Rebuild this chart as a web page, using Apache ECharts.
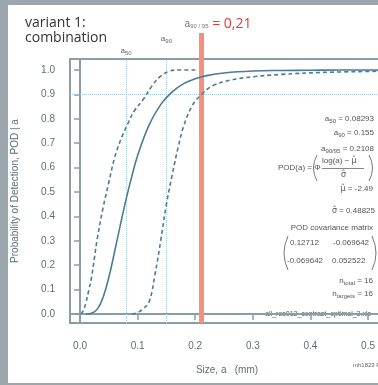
<!DOCTYPE html>
<html>
<head>
<meta charset="utf-8">
<script src="https://cdn.jsdelivr.net/npm/echarts@6/dist/echarts.min.js"></script>
<style>
  html, body { margin: 0; padding: 0; background: #9ba7ad; overflow: hidden; }
  #panel { position: absolute; left: 8px; top: 5px; width: 370px; height: 378px; background: #fff; }
  #main { position: absolute; left: 0; top: 0; width: 378px; height: 385px; }
</style>
</head>
<body>
<div id="panel"></div>
<div id="main"></div>
<script>
// POD curve (solid)
const sizeSolid = [0.010, 0.020, 0.030, 0.040, 0.050, 0.060, 0.070, 0.080, 0.090, 0.100, 0.120, 0.140, 0.160, 0.180, 0.200, 0.220, 0.250, 0.300, 0.350, 0.400, 0.450, 0.520];
const podSolid  = [0.000, 0.003, 0.020, 0.068, 0.150, 0.255, 0.365, 0.470, 0.565, 0.650, 0.775, 0.858, 0.910, 0.944, 0.964, 0.977, 0.988, 0.996, 0.998, 0.999, 1.000, 1.000];

// upper confidence curve (dashed, left)
const sizeUpper = [0.002, 0.006, 0.010, 0.015, 0.020, 0.025, 0.030, 0.040, 0.050, 0.060, 0.070, 0.083, 0.095, 0.110, 0.125, 0.140, 0.155, 0.170, 0.200];
const podUpper  = [0.000, 0.016, 0.045, 0.095, 0.150, 0.230, 0.310, 0.435, 0.540, 0.640, 0.710, 0.780, 0.835, 0.880, 0.935, 0.975, 0.995, 1.000, 1.000];

// lower 95% confidence curve (dashed, right)
const sizeLower = [0.090, 0.100, 0.110, 0.120, 0.130, 0.140, 0.150, 0.160, 0.170, 0.180, 0.195, 0.211, 0.230, 0.260, 0.300, 0.350, 0.420, 0.520];
const podLower  = [0.000, 0.006, 0.022, 0.050, 0.160, 0.300, 0.450, 0.570, 0.680, 0.770, 0.855, 0.900, 0.935, 0.958, 0.972, 0.982, 0.990, 0.995];

const xTicks = [0, 0.1, 0.2, 0.3, 0.4, 0.5];
const yTicks = [0, 0.1, 0.2, 0.3, 0.4, 0.5, 0.6, 0.7, 0.8, 0.9, 1.0];

const a50 = 0.08293;
const a90 = 0.155;
const a9095 = 0.2108;
const podLevel = 0.9;

const zip = (xs, ys) => xs.map((x, i) => [x, ys[i]]);

const chart = echarts.init(document.getElementById("main"));

const axisGray = "#8b9ea8";
const labelGray = "#5d6d77";
const curveBlue = "#4b7b95";
const dotBlue = "#a8cadb";
const orange = "#f3917a";
const font = "Liberation Sans";

const richSub = {
  s: { fontSize: 6, fontFamily: font, fill: "#555", padding: [4, 0, 0, 0] },
  h: { fontSize: 8, fontFamily: "DejaVu Sans", fill: "#555" }
};

const txt = (right, top, text) => ({
  type: "text",
  right: right,
  top: top,
  style: { text: text, font: "8px " + font, fill: "#555", rich: richSub }
});

const paren = (x1, y1, y2, bulge) => ({
  type: "bezierCurve",
  shape: { x1: x1, y1: y1, x2: x1, y2: y2, cpx1: x1 + bulge, cpy1: (y1 + y2) / 2 },
  style: { stroke: "#666", lineWidth: 0.9, fill: null }
});

const option = {
  animation: false,
  textStyle: { fontFamily: font },
  grid: [
    { left: 70, right: -6, top: 59, bottom: 62, show: true, borderColor: axisGray, borderWidth: 2, outerBoundsMode: "none", containLabel: false },
    { left: 70, right: -6, top: 33, height: 26, outerBoundsMode: "none", containLabel: false }
  ],
  xAxis: [
    {
      gridIndex: 0,
      type: "value",
      min: -0.0174,
      max: 0.5277,
      name: "Size, a   (mm)",
      nameLocation: "middle",
      nameGap: 42,
      nameTextStyle: { color: labelGray, fontSize: 10, fontFamily: font },
      splitLine: { show: false },
      axisLine: { lineStyle: { color: axisGray, width: 2 } },
      axisTick: { length: 6, lineStyle: { color: axisGray, width: 1.5 }, customValues: xTicks },
      axisLabel: { color: labelGray, fontSize: 10, margin: 18, customValues: xTicks, formatter: v => v.toFixed(1) }
    },
    { gridIndex: 1, type: "value", min: -0.0174, max: 0.5277, show: false }
  ],
  yAxis: [
    {
      gridIndex: 0,
      type: "value",
      min: -0.0369,
      max: 1.0451,
      name: "Probability of Detection, POD | a",
      nameLocation: "middle",
      nameGap: 50,
      nameTextStyle: { color: labelGray, fontSize: 10, fontFamily: font },
      splitLine: { show: false },
      axisLine: { show: true, lineStyle: { color: axisGray, width: 2 } },
      axisTick: { show: true, length: 6, lineStyle: { color: axisGray, width: 1.5 }, customValues: yTicks },
      axisLabel: { color: labelGray, fontSize: 10, margin: 15, customValues: yTicks, formatter: v => v.toFixed(1) }
    },
    { gridIndex: 1, type: "value", min: 0, max: 1, show: false }
  ],
  series: [
    {
      name: "ref",
      type: "line",
      xAxisIndex: 0,
      yAxisIndex: 0,
      data: [],
      z: 1,
      markLine: {
        symbol: "none",
        silent: true,
        animation: false,
        z: 1,
        data: [
          {
            xAxis: a50,
            lineStyle: { color: dotBlue, type: "dotted", width: 1 },
            label: { show: true, position: "end", distance: 3, formatter: "a{s|50}", color: "#666", fontSize: 8,
              rich: { s: { fontSize: 6, padding: [4, 0, 0, 0] } } }
          },
          {
            xAxis: a90,
            lineStyle: { color: dotBlue, type: "dotted", width: 1 },
            label: { show: true, position: "end", distance: 15, formatter: "a{s|90}", color: "#666", fontSize: 8,
              rich: { s: { fontSize: 6, padding: [4, 0, 0, 0] } } }
          },
          {
            yAxis: podLevel,
            lineStyle: { color: dotBlue, type: "dotted", width: 1 },
            label: { show: false }
          },
          {
            xAxis: a9095,
            lineStyle: { color: orange, type: "solid", width: 5, opacity: 1 },
            label: { show: false }
          }
        ]
      }
    },
    {
      name: "upper",
      type: "line",
      data: zip(sizeUpper, podUpper),
      smooth: 0.4,
      showSymbol: false,
      lineStyle: { color: curveBlue, width: 1.6, type: [4, 3] },
      z: 10
    },
    {
      name: "POD",
      type: "line",
      data: zip(sizeSolid, podSolid),
      smooth: 0.4,
      showSymbol: false,
      lineStyle: { color: curveBlue, width: 1.6 },
      z: 11
    },
    {
      name: "lower",
      type: "line",
      data: zip(sizeLower, podLower),
      smooth: 0.4,
      showSymbol: false,
      lineStyle: { color: curveBlue, width: 1.6, type: [4, 3] },
      z: 10
    },
    {
      name: "a90/95 top",
      type: "line",
      xAxisIndex: 1,
      yAxisIndex: 1,
      data: [],
      markLine: {
        symbol: "none",
        silent: true,
        animation: false,
        data: [
          {
            xAxis: a9095,
            lineStyle: { color: orange, type: "solid", width: 5, opacity: 1 },
            label: {
              show: true,
              position: "end",
              distance: 2,
              padding: [0, 0, 0, 34],
              formatter: "{g|a}{s|90 / 95}{r| = 0,21}",
              rich: {
                g: { fontSize: 10, color: "#777", fontFamily: font },
                s: { fontSize: 6, color: "#777", fontFamily: font, padding: [5, 0, 0, 0] },
                r: { fontSize: 14, color: "#e8392f", fontFamily: "Open Sans" }
              }
            }
          }
        ]
      }
    }
  ],
  graphic: [
    { type: "text", left: 25, top: 16, style: { text: "variant 1:\ncombination", font: "14px Open Sans", fill: "#333", lineHeight: 15 } },
    txt(4, 115, "a{s|50} = 0.08293"),
    txt(4, 129, "a{s|90} = 0.155"),
    txt(4, 145, "a{s|90/95} = 0.2108"),
    { type: "text", left: 278, top: 164, style: { text: "POD(a) = \u03a6", font: "8px " + font, fill: "#555" } },
    paren(317, 155, 181, -7),
    paren(369, 155, 181, 7),
    { type: "text", left: 322, top: 157, style: { text: "log(a) \u2212 {h|\u03bc\u0302}", font: "8px " + font, fill: "#555", rich: richSub } },
    { type: "line", shape: { x1: 322, y1: 168.5, x2: 364, y2: 168.5 }, style: { stroke: "#666", lineWidth: 0.8 } },
    { type: "text", left: 341, top: 171, style: { text: "{h|\u03c3\u0302}", font: "8px " + font, fill: "#555", rich: richSub } },
    txt(5, 185, "{h|\u03bc\u0302} = -2.49"),
    txt(3, 207, "{h|\u03c3\u0302} = 0.48825"),
    txt(5, 224, "POD covariance matrix"),
    paren(288, 236, 270, -8),
    paren(372, 236, 270, 8),
    { type: "text", left: 290, top: 239, style: { text: "0.12712", font: "8px " + font, fill: "#555" } },
    { type: "text", left: 333, top: 239, style: { text: "-0.069642", font: "8px " + font, fill: "#555" } },
    { type: "text", left: 287, top: 257, style: { text: "-0.069642", font: "8px " + font, fill: "#555" } },
    { type: "text", left: 332, top: 257, style: { text: "0.052522", font: "8px " + font, fill: "#555" } },
    txt(5, 277, "n{s|total} = 16"),
    txt(5, 290, "n{s|targets} = 16"),
    { type: "text", right: 7, top: 311, style: { text: "all_res012_contrast_optimal_3.xls", font: "7px " + font, fill: "#555" } },
    { type: "text", left: 353, top: 362, style: { text: "mh1823 POD", font: "6px " + font, fill: "#666" } }
  ]
};

chart.setOption(option);
</script>
</body>
</html>
